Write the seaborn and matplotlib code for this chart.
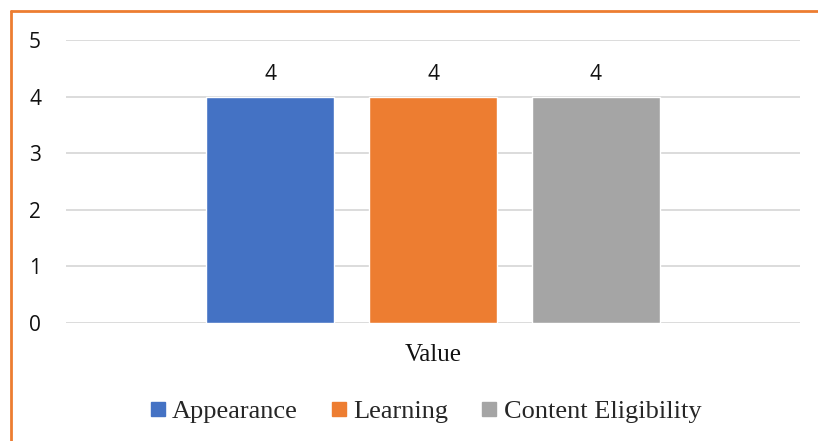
import matplotlib
matplotlib.use("Agg")
import matplotlib.pyplot as plt
import seaborn as sns
import pandas as pd
from matplotlib.lines import Line2D

categories = ["Value"]
series = ["Appearance", "Learning", "Content Eligibility"]
values = [4, 4, 4]
colors = ["#4472C4", "#ED7D31", "#A5A5A5"]
yticks = [0, 1, 2, 3, 4, 5]

df = pd.DataFrame({
    "category": categories * len(series),
    "series": series,
    "value": values,
})

sns.set_style("white")

fig = plt.figure(figsize=(8.18, 4.41), dpi=100)
ax = fig.add_axes([66 / 818, 1 - 323 / 441, 734 / 818, 283 / 441])

sns.barplot(data=df, x="category", y="value", hue="series", palette=colors,
            width=0.666, gap=0.21, ax=ax, legend=False, saturation=1)

ax.set_ylim(0, 5)
ax.set_xlim(-0.5, 0.5)
ax.set_yticks(yticks)
ax.yaxis.grid(True, color="#d9d9d9", linewidth=1.3)
ax.set_axisbelow(True)
for s in ax.spines.values():
    s.set_visible(False)
ax.tick_params(axis="y", length=0, pad=18, labelsize=15, labelcolor="#111111")
ax.tick_params(axis="x", length=0, pad=15, labelcolor="#111111")
for lab in ax.get_yticklabels():
    lab.set_fontfamily("Open Sans")
for lab in ax.get_xticklabels():
    lab.set_fontfamily("Liberation Serif")
    lab.set_fontsize(18)
ax.set_xlabel("")
ax.set_ylabel("")

for cont in ax.containers:
    ax.bar_label(cont, fmt="%g", padding=8, fontsize=15, fontfamily="Open Sans",
                 color="#111111")

handles = [Line2D([0], [0], marker="s", linestyle="", markersize=10,
                  markerfacecolor=c, markeredgecolor=c) for c in colors]
fig.legend(handles, series, loc="center", bbox_to_anchor=(0.521, 1 - 411 / 441),
           ncol=3, frameon=False, handlelength=0.5, handletextpad=0.3,
           columnspacing=1.3, prop={"family": "Liberation Serif", "size": 19})

# orange chart border (right/bottom edges fall outside the crop)
border = "#ED7D31"
fig.add_artist(Line2D([11 / 818, 1.0], [1 - 11 / 441, 1 - 11 / 441],
                      transform=fig.transFigure, color=border, linewidth=2))
fig.add_artist(Line2D([11 / 818, 11 / 818], [0.0, 1 - 11 / 441],
                      transform=fig.transFigure, color=border, linewidth=2))

fig.savefig("out.png", dpi=100, facecolor="white")
